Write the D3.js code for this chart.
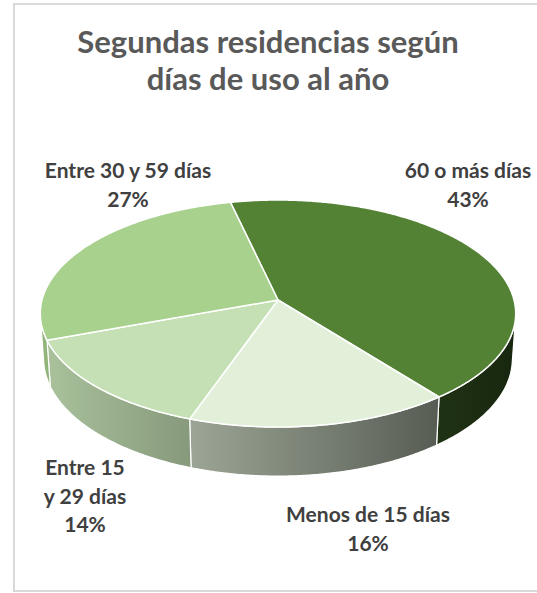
<!DOCTYPE html>
<html>
<head>
<meta charset="utf-8">
<script src="https://cdn.jsdelivr.net/npm/d3@7"></script>
<style>
  body { margin: 0; background: #fff; }
  svg { display: block; }
</style>
</head>
<body>
<svg id="chart" width="537" height="593"></svg>
<script>
// data, clockwise from the back of the pie
const categories = ["60 o más días", "Menos de 15 días", "Entre 15 y 29 días", "Entre 30 y 59 días"];
const values = [43, 16, 14, 27];
const labelNames = [["60 o más días"], ["Menos de 15 días"], ["Entre 15", "y 29 días"], ["Entre 30 y 59 días"]];
const sliceColors = ["#548235", "#e2f0d9", "#c5e0b4", "#a9d18e"];
const titleLines = ["Segundas residencias según", "días de uso al año"];

const width = 537, height = 593;
const fontFamily = "Lato, 'Open Sans', sans-serif";

// 3d pie geometry (perspective view from above)
const cx = 278, cy = 300, R = 236;
const elev = 28.3 * Math.PI / 180;
const D = 7.39;       // camera distance, in radii
const thick = 0.22;   // pie thickness, in radii
const startDeg = -13;

// label anchors (centre of first baseline), one per slice
const labelAnchors = [[468, 178], [368, 522], [85, 475], [128, 178]];
const lineStep = 28.5;

const svg = d3.select("#chart");

function project(a, level) {
    const x = Math.sin(a), z = Math.cos(a), y = -thick * level;
    const depth = -y * Math.sin(elev) + z * Math.cos(elev);
    const up = y * Math.cos(elev) + z * Math.sin(elev);
    const s = D / (D + depth);
    return [cx + R * x * s, cy - R * up * s];
}

function arcPoints(a0, a1, level) {
    const n = Math.max(2, Math.ceil(Math.abs(a1 - a0) / (Math.PI / 360)));
    return d3.range(n + 1).map(i => project(a0 + (a1 - a0) * i / n, level));
}

const pie = d3.pie().sort(null).value(d => d)
    .startAngle(startDeg * Math.PI / 180)
    .endAngle(startDeg * Math.PI / 180 + 2 * Math.PI);
const arcs = pie(values);

// border of the chart area
svg.append("rect")
    .attr("x", 14).attr("y", 4)
    .attr("width", 540).attr("height", 587)
    .attr("fill", "#fff")
    .attr("stroke", "#d9d9d9")
    .attr("stroke-width", 2);

// title
svg.append("text")
    .attr("x", 268).attr("y", 53)
    .attr("text-anchor", "middle")
    .attr("font-family", fontFamily)
    .attr("font-weight", 700)
    .attr("font-size", 31)
    .attr("fill", "#595959")
    .selectAll("tspan")
    .data(titleLines)
    .enter().append("tspan")
    .attr("x", 268)
    .attr("dy", (d, i) => i === 0 ? 0 : 37)
    .text(d => d);

// wall shading gets darker to the right
const shade = d3.scaleLinear().domain([40, 516]).range([0.87, 0.29]);
const defs = svg.append("defs");
sliceColors.forEach((c, i) => {
    const g = defs.append("linearGradient")
        .attr("id", "wall" + i)
        .attr("gradientUnits", "userSpaceOnUse")
        .attr("x1", 40).attr("x2", 516).attr("y1", 0).attr("y2", 0);
    [40, 516].forEach((xPos, j) => {
        const base = d3.rgb(c), k = shade(xPos);
        g.append("stop")
            .attr("offset", j)
            .attr("stop-color", d3.rgb(base.r * k, base.g * k, base.b * k).formatHex());
    });
});

// visible part of the outer wall
const aMin = Math.acos(-1 / (D * Math.cos(elev)));
const aMax = 2 * Math.PI - aMin;

const line = d3.line();
const walls = svg.append("g");
arcs.forEach((d, i) => {
    const w0 = Math.max(d.startAngle, aMin), w1 = Math.min(d.endAngle, aMax);
    if (w1 <= w0) return;
    const pts = arcPoints(w0, w1, 0).concat(arcPoints(w1, w0, 1));
    walls.append("path")
        .attr("d", line(pts) + "Z")
        .attr("fill", "url(#wall" + i + ")")
        .attr("stroke", "#fff")
        .attr("stroke-width", 1.2)
        .attr("stroke-linejoin", "round");
});

// top faces
svg.append("g")
    .selectAll("path")
    .data(arcs)
    .enter().append("path")
    .attr("d", d => line([[cx, cy]].concat(arcPoints(d.startAngle, d.endAngle, 0))) + "Z")
    .attr("fill", (d, i) => sliceColors[i])
    .attr("stroke", "#fff")
    .attr("stroke-width", 1.5)
    .attr("stroke-linejoin", "round");

// data labels
const total = d3.sum(values);
const pct = d3.format(".0%");
const labels = svg.append("g")
    .attr("font-family", fontFamily)
    .attr("font-weight", 700)
    .attr("font-size", 21)
    .attr("fill", "#404040")
    .attr("text-anchor", "middle");

arcs.forEach((d, i) => {
    const lines = labelNames[i].concat([pct(d.value / total)]);
    const t = labels.append("text")
        .attr("x", labelAnchors[i][0])
        .attr("y", labelAnchors[i][1]);
    t.selectAll("tspan")
        .data(lines)
        .enter().append("tspan")
        .attr("x", labelAnchors[i][0])
        .attr("dy", (s, j) => j === 0 ? 0 : lineStep)
        .text(s => s);
});
</script>
</body>
</html>
